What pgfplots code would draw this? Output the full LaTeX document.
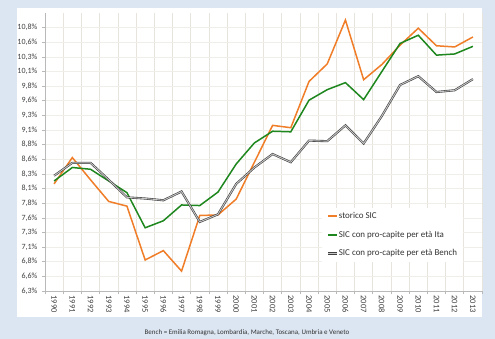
\documentclass[border=0pt]{standalone}
\usepackage{pgfplots}
\pgfplotsset{compat=1.18}
\usepackage{fontspec}
\setmainfont{Carlito}
\definecolor{bgblue}{RGB}{220,230,242}
\definecolor{sicorange}{RGB}{240,125,40}
\definecolor{sicgreen}{RGB}{30,135,30}
\definecolor{gridv}{RGB}{230,228,221}
\definecolor{gridh}{RGB}{240,238,233}
\definecolor{axisgray}{RGB}{185,185,185}
\begin{document}
\begin{tikzpicture}
\useasboundingbox (0,0) rectangle (495bp,339bp);
\fill[bgblue] (0,0) rectangle (495bp,339bp);
\fill[white] (17bp,22bp) rectangle (482bp,331bp);
\begin{axis}[
  at={(45bp,48bp)}, anchor=south west,
  scale only axis, width=437bp, height=278bp,
  xmin=-0.5, xmax=23.5, ymin=6.3, ymax=11.05,
  axis x line*=bottom, axis y line*=left,
  axis line style={draw=axisgray, line width=0.6bp, -},
  xtick={0,...,23},
  xticklabels={1990,1991,1992,1993,1994,1995,1996,1997,1998,1999,2000,2001,2002,2003,2004,2005,2006,2007,2008,2009,2010,2011,2012,2013},
  major x tick style={draw=none},
  minor xtick={-0.5,0.5,...,23.5},
  minor x tick style={draw=axisgray, line width=0.6bp},
  xminorgrids=true,
  minor x grid style={draw=gridv, line width=0.6bp},
  ymajorgrids=true,
  major y grid style={draw=gridh, line width=0.6bp},
  ytick={6.3,6.55,6.8,7.05,7.3,7.55,7.8,8.05,8.3,8.55,8.8,9.05,9.3,9.55,9.8,10.05,10.3,10.55,10.8},
  yticklabels={6{,}3\%,6{,}6\%,6{,}8\%,7{,}1\%,7{,}3\%,7{,}6\%,7{,}8\%,8{,}1\%,8{,}3\%,8{,}6\%,8{,}8\%,9{,}1\%,9{,}3\%,9{,}6\%,9{,}8\%,10{,}1\%,10{,}3\%,10{,}6\%,10{,}8\%},
  major y tick style={draw=axisgray, line width=0.6bp},
  tick align=outside,
  major tick length=3bp, minor tick length=3bp,
  xticklabel style={rotate=-90, anchor=west, font=\fontsize{8.5}{9}\selectfont, text=black!75, inner sep=1.5bp},
  yticklabel style={font=\fontsize{8}{9}\selectfont, text=black!75, inner sep=2bp, xshift=-2.5bp},
  legend style={at={(rel axis cs:0.634,0.300)}, anchor=north west, draw=none, fill=white,
    font=\fontsize{9}{10}\selectfont, text=black!80, inner xsep=5bp, inner ysep=4bp,
    row sep=10bp, cells={anchor=west}, nodes={inner sep=0.5bp}},
  legend image code/.code={\draw[#1, line cap=butt] (0bp,0bp) -- (9bp,0bp);},
  clip=false,
]
\addplot[sicorange, line width=1.5bp] coordinates {
(0,8.13) (1,8.58) (2,8.20) (3,7.83) (4,7.75) (5,6.83) (6,6.99) (7,6.64) (8,7.59) (9,7.60) (10,7.87) (11,8.50)
(12,9.13) (13,9.09) (14,9.88) (15,10.18) (16,10.93) (17,9.91) (18,10.17) (19,10.50) (20,10.79) (21,10.49) (22,10.47) (23,10.64)};
\addlegendentry{storico SIC}
\addplot[sicgreen, line width=1.5bp] coordinates {
(0,8.18) (1,8.41) (2,8.38) (3,8.18) (4,7.98) (5,7.38) (6,7.50) (7,7.77) (8,7.76) (9,7.99) (10,8.47) (11,8.83)
(12,9.03) (13,9.02) (14,9.56) (15,9.74) (16,9.86) (17,9.57) (18,10.05) (19,10.53) (20,10.67) (21,10.33) (22,10.35) (23,10.48)};
\addlegendentry{SIC con pro-capite per età Ita}
\addplot[draw=black!75, line width=0.6bp, double=gray!45, double distance=0.9bp] coordinates {
(0,8.27) (1,8.49) (2,8.49) (3,8.20) (4,7.90) (5,7.88) (6,7.85) (7,8.00) (8,7.48) (9,7.61) (10,8.13) (11,8.41)
(12,8.64) (13,8.50) (14,8.87) (15,8.86) (16,9.13) (17,8.82) (18,9.29) (19,9.82) (20,9.97) (21,9.70) (22,9.73) (23,9.92)};
\addlegendentry{SIC con pro-capite per età Bench}
\end{axis}
\node[font=\fontsize{7}{8}\selectfont, text=black!80] at (247bp,6bp) {Bench = Emilia Romagna, Lombardia, Marche, Toscana, Umbria e Veneto};
\end{tikzpicture}
\end{document}
